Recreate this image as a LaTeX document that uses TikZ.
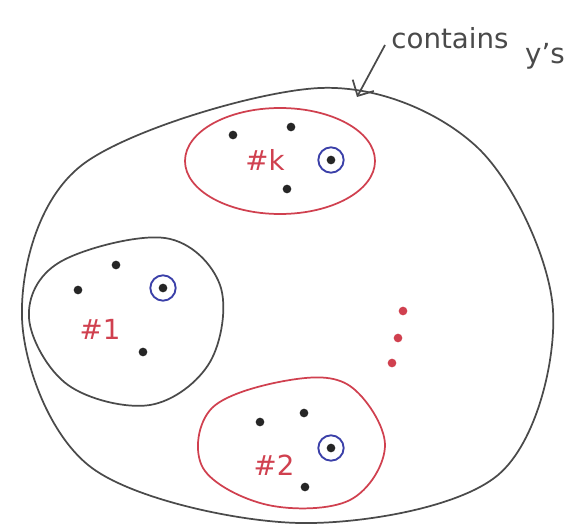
\documentclass[tikz,border=0pt]{standalone}
\usepackage{fontspec}
\setmainfont{DejaVu Sans}
\usetikzlibrary{arrows.meta}
\definecolor{pencil}{HTML}{4A4A4A}
\definecolor{redink}{HTML}{D0404F}
\definecolor{blueink}{HTML}{3A3FA8}
\tikzset{
  outline/.style={draw=pencil, line width=1.3pt},
  cluster/.style={draw=redink, line width=1.3pt},
  pt/.style={circle, fill=black!85, inner sep=0pt, minimum size=6.5pt},
  reddot/.style={circle, fill=redink, inner sep=0pt, minimum size=6.5pt},
  centre/.style={circle, draw=blueink, line width=1.4pt, inner sep=0pt, minimum size=19pt},
  lbl/.style={text=redink, font=\huge},
  note/.style={text=pencil, font=\huge},
}
\begin{document}
\begin{tikzpicture}[x=0.75pt,y=-0.75pt]
\useasboundingbox (0,0) rectangle (574,531);
\fill[white] (0,0) rectangle (574,531);

% outer region
\draw[outline] plot[smooth cycle, tension=0.55] coordinates {
  (320,88) (478,148) (553,310) (498,475) (300,523) (92,468) (22,318) (82,165)};

% cluster #k
\draw[cluster] (280,161) ellipse [x radius=95, y radius=53];
\node[pt] (k1) at (233,135) {};
\node[pt] (k2) at (291,127) {};
\node[pt] (k3) at (287,189) {};
\node[pt] (kc) at (331,160) {};
\node[centre] (kr) at (kc) {};
\node[lbl] (kl) at (265,160) {\#k};

% cluster #1
\draw[outline] plot[smooth cycle, tension=0.6] coordinates {
  (165,238) (60,262) (29,318) (68,385) (150,405) (210,362) (220,285)};
\node[pt] (a1) at (116,265) {};
\node[pt] (a2) at (78,290) {};
\node[pt] (a3) at (143,352) {};
\node[pt] (ac) at (163,288) {};
\node[centre] (ar) at (ac) {};
\node[lbl] (al) at (100,329) {\#1};

% cluster #2
\draw[cluster] plot[smooth cycle, tension=0.6] coordinates {
  (290,380) (212,408) (203,468) (268,505) (350,500) (385,445) (350,386)};
\node[pt] (b1) at (260,422) {};
\node[pt] (b2) at (304,413) {};
\node[pt] (b3) at (305,487) {};
\node[pt] (bc) at (331,448) {};
\node[centre] (br) at (bc) {};
\node[lbl] (bl) at (274,465) {\#2};

% vertical ellipsis
\node[reddot] (e1) at (403,311) {};
\node[reddot] (e2) at (398,338) {};
\node[reddot] (e3) at (392,363) {};

% annotation
\node[note] (note1) at (450,38) {contains};
\node[note] (note2) at (545,56) {y's};
\coordinate (tip) at (357,97);
\draw[draw=pencil, line width=1.3pt, -{Straight Barb[length=9pt]}] (385,45) -- (tip);
\end{tikzpicture}
\end{document}
